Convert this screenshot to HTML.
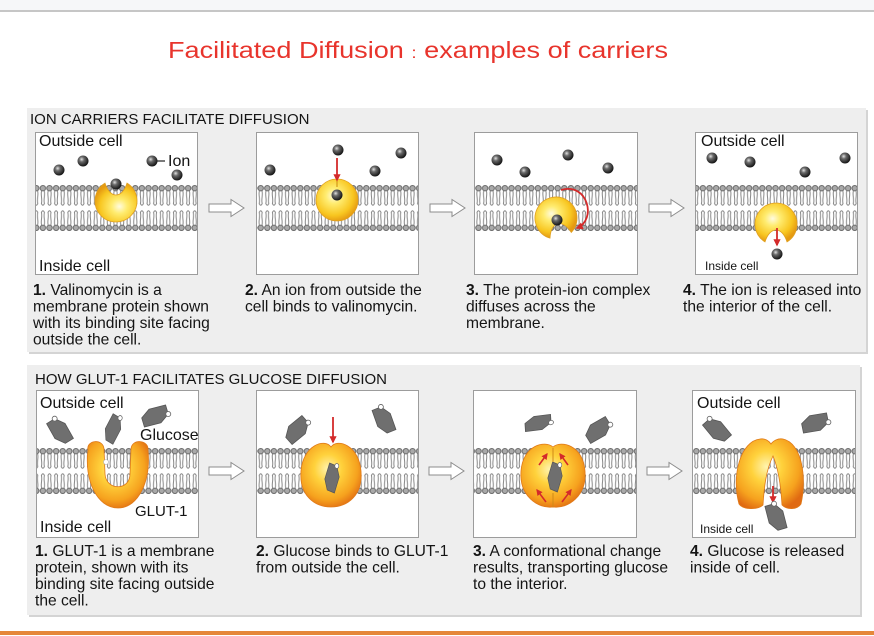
<!DOCTYPE html>
<html><head><meta charset="utf-8">
<style>
html,body{margin:0;padding:0;background:#fff;}
svg{display:block;}
text{font-family:"Liberation Sans",Arial,sans-serif;fill:#141414;}
</style></head>
<body>
<svg width="874" height="636" viewBox="0 0 874 636" xmlns="http://www.w3.org/2000/svg">
<defs>
 <radialGradient id="ion" cx="0.38" cy="0.35" r="0.65">
  <stop offset="0" stop-color="#e2e2e2"/>
  <stop offset="0.35" stop-color="#6a6a6a"/>
  <stop offset="1" stop-color="#141414"/>
 </radialGradient>
 <radialGradient id="yel" cx="0.42" cy="0.4" r="0.62">
  <stop offset="0" stop-color="#fffbe0"/>
  <stop offset="0.3" stop-color="#ffec70"/>
  <stop offset="0.75" stop-color="#f8c620"/>
  <stop offset="1" stop-color="#e59a12"/>
 </radialGradient>
 <radialGradient id="org" cx="0.45" cy="0.4" r="0.65">
  <stop offset="0" stop-color="#fff4b0"/>
  <stop offset="0.35" stop-color="#ffd23c"/>
  <stop offset="0.75" stop-color="#f6a21e"/>
  <stop offset="1" stop-color="#e06a12"/>
 </radialGradient>
 <pattern id="memA" x="0" y="185" width="6.6" height="46" patternUnits="userSpaceOnUse">
  <circle cx="3.3" cy="3.2" r="2.7" fill="#a9a9a9" stroke="#6c6c6c" stroke-width="1"/>
  <path d="M2 5.8 C0.8 10 3 14 1.8 18.5 Q3.3 22 4.8 18.5 C3.6 14 5.8 10 4.6 5.8" fill="none" stroke="#888" stroke-width="1"/>
  <g transform="translate(0,46) scale(1,-1)">
   <circle cx="3.3" cy="3.2" r="2.7" fill="#a9a9a9" stroke="#6c6c6c" stroke-width="1"/>
   <path d="M2 5.8 C0.8 10 3 14 1.8 18.5 Q3.3 22 4.8 18.5 C3.6 14 5.8 10 4.6 5.8" fill="none" stroke="#888" stroke-width="1"/>
  </g>
 </pattern>
 <pattern id="memB" x="0" y="448" width="6.6" height="46" patternUnits="userSpaceOnUse">
  <circle cx="3.3" cy="3.2" r="2.7" fill="#a9a9a9" stroke="#6c6c6c" stroke-width="1"/>
  <path d="M2 5.8 C0.8 10 3 14 1.8 18.5 Q3.3 22 4.8 18.5 C3.6 14 5.8 10 4.6 5.8" fill="none" stroke="#888" stroke-width="1"/>
  <g transform="translate(0,46) scale(1,-1)">
   <circle cx="3.3" cy="3.2" r="2.7" fill="#a9a9a9" stroke="#6c6c6c" stroke-width="1"/>
   <path d="M2 5.8 C0.8 10 3 14 1.8 18.5 Q3.3 22 4.8 18.5 C3.6 14 5.8 10 4.6 5.8" fill="none" stroke="#888" stroke-width="1"/>
  </g>
 </pattern>
 <marker id="ah" viewBox="0 0 10 10" refX="8" refY="5" markerWidth="4" markerHeight="4" orient="auto">
  <path d="M0 0 L10 5 L0 10 Z" fill="#d42a2a"/>
 </marker>
 <g id="glc">
  <polygon points="-3,-15 6,-12 9,-1 3,15 -6,12 -9,1" fill="#6f6f6f" stroke="#555" stroke-width="0.8"/>
  <circle cx="6" cy="-12" r="2.5" fill="#fff" stroke="#666" stroke-width="0.8"/>
 </g>
 <path id="notchp" d="M-11 17.9 A21 21 0 1 1 11 17.9 C6 2 -6 2 -11 17.9 Z"/>
</defs>

<!-- top band -->
<rect x="0" y="0" width="874" height="10" fill="#f6f7f9"/>
<rect x="0" y="10" width="874" height="2" fill="#c6c6c6"/>

<!-- title -->
<text x="168" y="58" font-size="23" style="fill:#e8342c" textLength="500" lengthAdjust="spacingAndGlyphs">Facilitated Diffusion <tspan font-size="16">:</tspan> examples of carriers</text>

<!-- ROW 1 background -->
<rect x="29" y="110" width="839" height="244" fill="#d4d4d4"/>
<rect x="27" y="108" width="839" height="244" fill="#eeeeee"/>
<text x="30" y="124" font-size="15">ION CARRIERS FACILITATE DIFFUSION</text>

<!-- row1 boxes -->
<rect x="35.5" y="132.5" width="162" height="142" fill="#fff" stroke="#9c9c9c"/>
<rect x="256.5" y="132.5" width="162" height="142" fill="#fff" stroke="#9c9c9c"/>
<rect x="474.5" y="132.5" width="163" height="142" fill="#fff" stroke="#9c9c9c"/>
<rect x="695.5" y="132.5" width="162" height="142" fill="#fff" stroke="#9c9c9c"/>

<!-- row1 membranes -->
<rect x="36" y="185" width="161" height="46" fill="url(#memA)"/>
<rect x="257" y="185" width="161" height="46" fill="url(#memA)"/>
<rect x="475" y="185" width="162" height="46" fill="url(#memA)"/>
<rect x="696" y="185" width="161" height="46" fill="url(#memA)"/>

<!-- row1 panel 1 -->
<text x="39" y="146" font-size="16">Outside cell</text>
<text x="39" y="271" font-size="16">Inside cell</text>
<use href="#notchp" transform="translate(116,201) rotate(180)" fill="url(#yel)" stroke="#e0a020" stroke-width="0.8"/>
<circle cx="59" cy="170" r="5.5" fill="url(#ion)"/>
<circle cx="83" cy="161" r="5.5" fill="url(#ion)"/>
<circle cx="152" cy="161" r="5.5" fill="url(#ion)"/>
<line x1="157" y1="161" x2="165" y2="161" stroke="#222" stroke-width="1.2"/>
<text x="168" y="166" font-size="16">Ion</text>
<circle cx="177" cy="175" r="5.5" fill="url(#ion)"/>
<circle cx="116" cy="184" r="5.5" fill="url(#ion)"/>

<!-- row1 panel 2 -->
<circle cx="337" cy="200" r="21" fill="url(#yel)" stroke="#e0a020" stroke-width="0.8"/>
<line x1="337" y1="179" x2="337" y2="187" stroke="#d49a18" stroke-width="1.2"/>
<circle cx="337" cy="195" r="5.5" fill="url(#ion)"/>
<line x1="337" y1="158" x2="337" y2="180" stroke="#d42a2a" stroke-width="1.8" marker-end="url(#ah)"/>
<circle cx="270" cy="170" r="5.5" fill="url(#ion)"/>
<circle cx="338" cy="150" r="5.5" fill="url(#ion)"/>
<circle cx="375" cy="171" r="5.5" fill="url(#ion)"/>
<circle cx="401" cy="153" r="5.5" fill="url(#ion)"/>

<!-- row1 panel 3 -->
<use href="#notchp" transform="translate(556,218) rotate(-15)" fill="url(#yel)" stroke="#e0a020" stroke-width="0.8"/>
<circle cx="557" cy="220" r="5.5" fill="url(#ion)"/>
<path d="M561 190 C588 182 597 220 577 228" fill="none" stroke="#d42a2a" stroke-width="1.8" marker-end="url(#ah)"/>
<circle cx="497" cy="160" r="5.5" fill="url(#ion)"/>
<circle cx="525" cy="172" r="5.5" fill="url(#ion)"/>
<circle cx="568" cy="155" r="5.5" fill="url(#ion)"/>
<circle cx="608" cy="168" r="5.5" fill="url(#ion)"/>

<!-- row1 panel 4 -->
<text x="701" y="146" font-size="16">Outside cell</text>
<text x="705" y="270" font-size="12">Inside cell</text>
<use href="#notchp" transform="translate(776,224)" fill="url(#yel)" stroke="#e0a020" stroke-width="0.8"/>
<line x1="777" y1="228" x2="777" y2="245" stroke="#d42a2a" stroke-width="1.8" marker-end="url(#ah)"/>
<circle cx="777" cy="254" r="5.5" fill="url(#ion)"/>
<circle cx="712" cy="158" r="5.5" fill="url(#ion)"/>
<circle cx="750" cy="162" r="5.5" fill="url(#ion)"/>
<circle cx="805" cy="172" r="5.5" fill="url(#ion)"/>
<circle cx="845" cy="158" r="5.5" fill="url(#ion)"/>

<!-- row1 arrows -->
<path d="M209 204 L231 204 L231 199.5 L244 208 L231 216.5 L231 212 L209 212 Z" fill="#fff" stroke="#8c8c8c"/>
<path d="M430 204 L452 204 L452 199.5 L465 208 L452 216.5 L452 212 L430 212 Z" fill="#fff" stroke="#8c8c8c"/>
<path d="M649 204 L671 204 L671 199.5 L684 208 L671 216.5 L671 212 L649 212 Z" fill="#fff" stroke="#8c8c8c"/>

<!-- row1 captions -->
<g font-size="15.6">
 <text x="33" y="295"><tspan font-weight="bold">1.</tspan> Valinomycin is a</text>
 <text x="33" y="311.5">membrane protein shown</text>
 <text x="33" y="328">with its binding site facing</text>
 <text x="33" y="344.5">outside the cell.</text>
 <text x="245" y="295"><tspan font-weight="bold">2.</tspan> An ion from outside the</text>
 <text x="245" y="311.5">cell binds to valinomycin.</text>
 <text x="466" y="295"><tspan font-weight="bold">3.</tspan> The protein-ion complex</text>
 <text x="466" y="311.5">diffuses across the</text>
 <text x="466" y="328">membrane.</text>
 <text x="683" y="295"><tspan font-weight="bold">4.</tspan> The ion is released into</text>
 <text x="683" y="311.5">the interior of the cell.</text>
</g>

<!-- ROW 2 background -->
<rect x="29" y="367" width="833" height="250" fill="#d4d4d4"/>
<rect x="27" y="365" width="833" height="250" fill="#eeeeee"/>
<text x="35" y="384" font-size="15">HOW GLUT-1 FACILITATES GLUCOSE DIFFUSION</text>

<!-- row2 boxes -->
<rect x="36.5" y="390.5" width="162" height="147" fill="#fff" stroke="#9c9c9c"/>
<rect x="256.5" y="390.5" width="162" height="147" fill="#fff" stroke="#9c9c9c"/>
<rect x="473.5" y="390.5" width="163" height="147" fill="#fff" stroke="#9c9c9c"/>
<rect x="692.5" y="390.5" width="163" height="147" fill="#fff" stroke="#9c9c9c"/>

<!-- row2 membranes -->
<rect x="37" y="448" width="161" height="46" fill="url(#memB)"/>
<rect x="257" y="448" width="161" height="46" fill="url(#memB)"/>
<rect x="474" y="448" width="162" height="46" fill="url(#memB)"/>
<rect x="693" y="448" width="162" height="46" fill="url(#memB)"/>

<!-- row2 panel 1 -->
<text x="40" y="408" font-size="16">Outside cell</text>
<use href="#glc" transform="translate(60,431) rotate(-50)"/>
<use href="#glc" transform="translate(113,429) rotate(10) scale(0.85,1)"/>
<use href="#glc" transform="translate(155,416) rotate(55)"/>
<text x="140" y="440" font-size="16">Glucose</text>
<path d="M88 450 C86 440 103 438 104 449 L105 474 C106 491 130 491 130 474 L131 449 C132 438 149 440 148 450 C151 480 139 508 118 508 C97 508 84 480 88 450 Z" fill="url(#org)" stroke="#e07a18" stroke-width="0.8"/>
<circle cx="106" cy="462" r="2.5" fill="#fff" stroke="#b0b0b0" stroke-width="0.6"/>
<text x="135" y="516" font-size="15">GLUT-1</text>
<text x="40" y="532" font-size="16">Inside cell</text>

<!-- row2 panel 2 -->
<use href="#glc" transform="translate(297,430) rotate(30)"/>
<use href="#glc" transform="translate(384,420) rotate(-40)"/>
<path d="M331 447 C325 438 303 445 301 471 C299 496 315 507 331 507 C347 507 363 496 361 471 C359 445 337 438 331 447 Z" fill="url(#org)" stroke="#e07a18" stroke-width="0.8"/>
<use href="#glc" transform="translate(332,478) scale(0.8,1)"/>
<line x1="333" y1="417" x2="333" y2="442" stroke="#d42a2a" stroke-width="1.8" marker-end="url(#ah)"/>

<!-- row2 panel 3 -->
<use href="#glc" transform="translate(538,423) rotate(65) scale(0.85,1)"/>
<use href="#glc" transform="translate(598,430) rotate(40)"/>
<path d="M553 447 C545 440 523 445 521 471 C519 496 538 509 553 507 C568 509 587 496 585 471 C583 445 561 440 553 447 Z" fill="url(#org)" stroke="#e07a18" stroke-width="0.8"/>
<use href="#glc" transform="translate(555,477) scale(0.8,1)"/>
<line x1="553" y1="448" x2="553" y2="462" stroke="#d08a18" stroke-width="1"/>
<line x1="553" y1="493" x2="553" y2="507" stroke="#d08a18" stroke-width="1"/>
<line x1="539" y1="465" x2="547" y2="454" stroke="#d42a2a" stroke-width="1.6" marker-end="url(#ah)"/>
<line x1="568" y1="465" x2="560" y2="454" stroke="#d42a2a" stroke-width="1.6" marker-end="url(#ah)"/>
<line x1="546" y1="502" x2="537" y2="490" stroke="#d42a2a" stroke-width="1.6" marker-end="url(#ah)"/>
<line x1="562" y1="502" x2="571" y2="490" stroke="#d42a2a" stroke-width="1.6" marker-end="url(#ah)"/>

<!-- row2 panel 4 -->
<text x="697" y="408" font-size="16">Outside cell</text>
<use href="#glc" transform="translate(717,430) rotate(-60)"/>
<use href="#glc" transform="translate(815,423) rotate(60)"/>
<path d="M739 504 C731 475 741 441 760 439 C765 438 769 441 771 444 C773 441 778 438 783 439 C802 443 807 478 801 504 C797 510 787 510 782 505 C781 488 779 470 773 456 C766 470 764 488 763 505 C758 510 743 510 739 504 Z" fill="url(#org)" stroke="#e07a18" stroke-width="0.8"/>
<line x1="773" y1="486" x2="773" y2="502" stroke="#d42a2a" stroke-width="1.8" marker-end="url(#ah)"/>
<use href="#glc" transform="translate(776,517) rotate(-35)"/>
<text x="700" y="533" font-size="12">Inside cell</text>

<!-- row2 arrows -->
<path d="M209 467 L231 467 L231 462.5 L244 471 L231 479.5 L231 475 L209 475 Z" fill="#fff" stroke="#8c8c8c"/>
<path d="M429 467 L451 467 L451 462.5 L464 471 L451 479.5 L451 475 L429 475 Z" fill="#fff" stroke="#8c8c8c"/>
<path d="M647 467 L669 467 L669 462.5 L682 471 L669 479.5 L669 475 L647 475 Z" fill="#fff" stroke="#8c8c8c"/>

<!-- row2 captions -->
<g font-size="15.6">
 <text x="35" y="556"><tspan font-weight="bold">1.</tspan> GLUT-1 is a membrane</text>
 <text x="35" y="572.5">protein, shown with its</text>
 <text x="35" y="589">binding site facing outside</text>
 <text x="35" y="605.5">the cell.</text>
 <text x="256" y="556"><tspan font-weight="bold">2.</tspan> Glucose binds to GLUT-1</text>
 <text x="256" y="572.5">from outside the cell.</text>
 <text x="473" y="556"><tspan font-weight="bold">3.</tspan> A conformational change</text>
 <text x="473" y="572.5">results, transporting glucose</text>
 <text x="473" y="589">to the interior.</text>
 <text x="690" y="556"><tspan font-weight="bold">4.</tspan> Glucose is released</text>
 <text x="690" y="572.5">inside of cell.</text>
</g>

<!-- bottom orange rule -->
<rect x="0" y="631" width="874" height="4" fill="#e5873a"/>
</svg>
</body></html>
